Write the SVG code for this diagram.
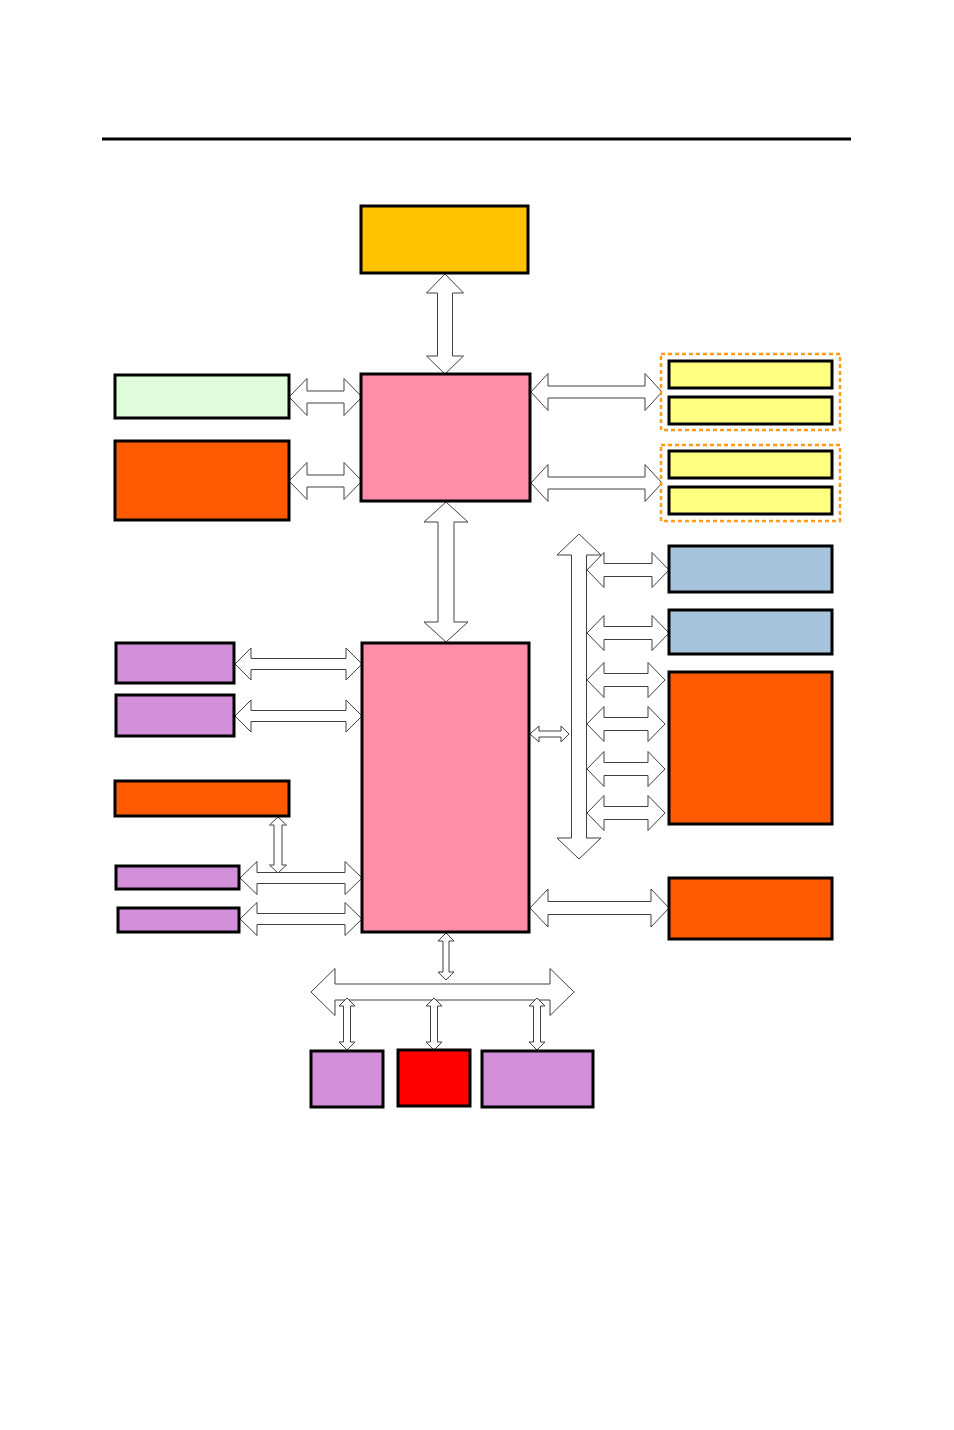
<svg xmlns="http://www.w3.org/2000/svg" width="954" height="1430" viewBox="0 0 954 1430">
<style>
.b{stroke:#000;stroke-width:3}
.a{fill:#fff;stroke:#404040;stroke-width:1}
.d{fill:none;stroke:#FF9A1A;stroke-width:2.5;stroke-dasharray:4 3}
</style>
<rect width="954" height="1430" fill="#fff"/>
<line x1="102" y1="139" x2="851" y2="139" stroke="#000" stroke-width="3"/>
<g id="connectors">
<path class="a" d="M445 274 L463.5 293 L452.5 293 L452.5 356 L463.5 356 L445 374 L426.5 356 L437.5 356 L437.5 293 L426.5 293 Z"/>
<path class="a" d="M446 502 L468 522 L454 522 L454 622 L468 622 L446 642 L424 622 L438 622 L438 522 L424 522 Z"/>
<path class="a" d="M289 397 L307 378.5 L307 391 L344 391 L344 378.5 L362 397 L344 415.5 L344 403 L307 403 L307 415.5 Z"/>
<path class="a" d="M289 481 L307 462.5 L307 475 L344 475 L344 462.5 L362 481 L344 499.5 L344 487 L307 487 L307 499.5 Z"/>
<path class="a" d="M531 392 L548 373.5 L548 386 L645 386 L645 373.5 L662 392 L645 410.5 L645 398 L548 398 L548 410.5 Z"/>
<path class="a" d="M531 483 L548 464.5 L548 477 L645 477 L645 464.5 L662 483 L645 501.5 L645 489 L548 489 L548 501.5 Z"/>
<path class="a" d="M579 534 L601 555 L586.5 555 L586.5 838 L601 838 L579 859 L557 838 L571.5 838 L571.5 555 L557 555 Z"/>
<path class="a" d="M530 734 L539 726 L539 731 L561 731 L561 726 L569 734 L561 742 L561 737 L539 737 L539 742 Z"/>
<path class="a" d="M587 570 L604 552.5 L604 563.5 L652 563.5 L652 552.5 L669 570 L652 587.5 L652 576.5 L604 576.5 L604 587.5 Z"/>
<path class="a" d="M587 633 L604 615.5 L604 626.5 L652 626.5 L652 615.5 L669 633 L652 650.5 L652 639.5 L604 639.5 L604 650.5 Z"/>
<path class="a" d="M587 680 L604 662.5 L604 673.5 L648 673.5 L648 662.5 L665 680 L648 697.5 L648 686.5 L604 686.5 L604 697.5 Z"/>
<path class="a" d="M587 724 L604 706.5 L604 717.5 L648 717.5 L648 706.5 L665 724 L648 741.5 L648 730.5 L604 730.5 L604 741.5 Z"/>
<path class="a" d="M587 769 L604 751.5 L604 762.5 L648 762.5 L648 751.5 L665 769 L648 786.5 L648 775.5 L604 775.5 L604 786.5 Z"/>
<path class="a" d="M587 813 L604 795.5 L604 806.5 L648 806.5 L648 795.5 L665 813 L648 830.5 L648 819.5 L604 819.5 L604 830.5 Z"/>
<path class="a" d="M235 664 L251 648 L251 658.5 L346 658.5 L346 648 L362 664 L346 680 L346 669.5 L251 669.5 L251 680 Z"/>
<path class="a" d="M235 716 L251 700 L251 710.5 L346 710.5 L346 700 L362 716 L346 732 L346 721.5 L251 721.5 L251 732 Z"/>
<path class="a" d="M278 817 L286.5 825 L282 825 L282 865 L286.5 865 L278 873 L269.5 865 L274 865 L274 825 L269.5 825 Z"/>
<path class="a" d="M240 878 L257 861.5 L257 872.5 L345 872.5 L345 861.5 L362 878 L345 894.5 L345 883.5 L257 883.5 L257 894.5 Z"/>
<path class="a" d="M240 919 L257 902.5 L257 913.5 L345 913.5 L345 902.5 L362 919 L345 935.5 L345 924.5 L257 924.5 L257 935.5 Z"/>
<path class="a" d="M530 908 L548 889 L548 901.5 L651 901.5 L651 889 L669 908 L651 927 L651 914.5 L548 914.5 L548 927 Z"/>
<path class="a" d="M446 933 L454 941 L449 941 L449 972 L454 972 L446 980 L438 972 L443 972 L443 941 L438 941 Z"/>
<path class="a" d="M311 992 L335 968.5 L335 984 L550 984 L550 968.5 L574 992 L550 1015.5 L550 1000 L335 1000 L335 1015.5 Z"/>
<path class="a" d="M347 998 L355 1006 L350.5 1006 L350.5 1042 L355 1042 L347 1050 L339 1042 L343.5 1042 L343.5 1006 L339 1006 Z"/>
<path class="a" d="M434 998 L442 1006 L437.5 1006 L437.5 1042 L442 1042 L434 1050 L426 1042 L430.5 1042 L430.5 1006 L426 1006 Z"/>
<path class="a" d="M537 998 L545 1006 L540.5 1006 L540.5 1042 L545 1042 L537 1050 L529 1042 L533.5 1042 L533.5 1006 L529 1006 Z"/>
</g>
<g id="cpu"><rect class="b" x="361" y="206" width="167" height="67" fill="#FFC300"/></g>
<g id="green"><rect class="b" x="115" y="375" width="174" height="43" fill="#DFFCDA"/></g>
<g id="orange1"><rect class="b" x="115" y="441" width="174" height="79" fill="#FF5A00"/></g>
<g id="nb"><rect class="b" x="361" y="374" width="169" height="127" fill="#FF8FA9"/></g>
<g id="mem1">
<rect class="d" x="661" y="354" width="179" height="76"/>
<rect class="b" x="669" y="361" width="163" height="27" fill="#FFFF80"/>
<rect class="b" x="669" y="397" width="163" height="27" fill="#FFFF80"/>
</g>
<g id="mem2">
<rect class="d" x="661" y="445" width="179" height="76"/>
<rect class="b" x="669" y="451" width="163" height="27" fill="#FFFF80"/>
<rect class="b" x="669" y="487" width="163" height="27" fill="#FFFF80"/>
</g>
<g id="blue1"><rect class="b" x="669" y="546" width="163" height="46" fill="#A6C4DC"/></g>
<g id="blue2"><rect class="b" x="669" y="610" width="163" height="44" fill="#A6C4DC"/></g>
<g id="orange2"><rect class="b" x="669" y="672" width="163" height="152" fill="#FF5A00"/></g>
<g id="orange3"><rect class="b" x="669" y="878" width="163" height="61" fill="#FF5A00"/></g>
<g id="sb"><rect class="b" x="362" y="643" width="167" height="289" fill="#FF8FA9"/></g>
<g id="purple1"><rect class="b" x="116" y="643" width="118" height="40" fill="#D38FD9"/></g>
<g id="purple2"><rect class="b" x="116" y="695" width="118" height="41" fill="#D38FD9"/></g>
<g id="orange4"><rect class="b" x="115" y="781" width="174" height="35" fill="#FF5A00"/></g>
<g id="purple3"><rect class="b" x="116" y="866" width="123" height="23" fill="#D38FD9"/></g>
<g id="purple4"><rect class="b" x="118" y="908" width="121" height="24" fill="#D38FD9"/></g>
<g id="purple5"><rect class="b" x="311" y="1051" width="72" height="56" fill="#D38FD9"/></g>
<g id="red"><rect class="b" x="398" y="1050" width="72" height="56" fill="#FF0000"/></g>
<g id="purple6"><rect class="b" x="482" y="1051" width="111" height="56" fill="#D38FD9"/></g>
</svg>
